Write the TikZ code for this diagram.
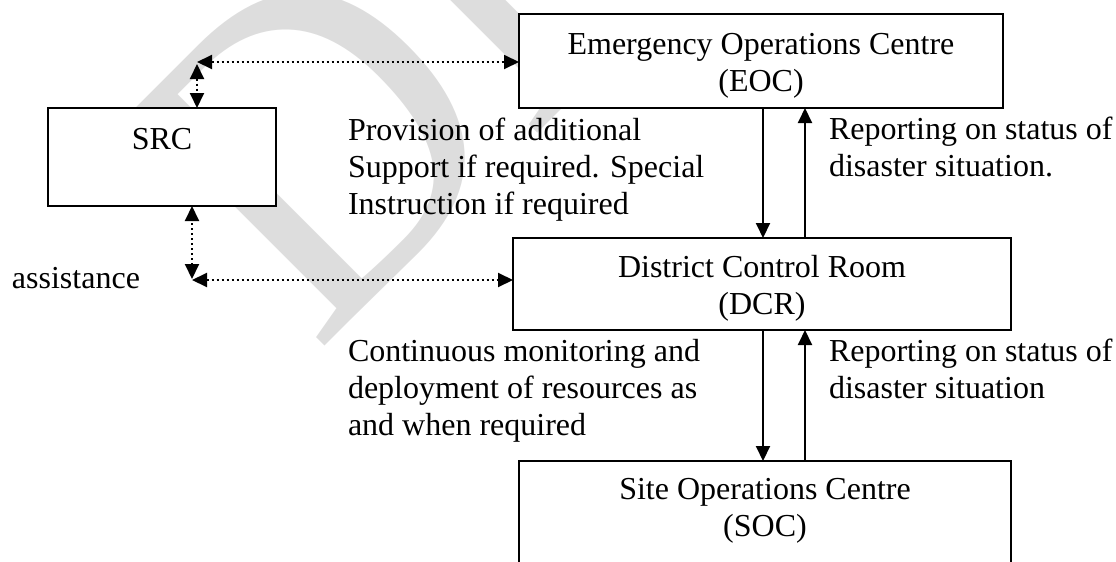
\documentclass[tikz,border=0pt]{standalone}
\usepackage{fontspec}
\setmainfont{Liberation Serif}
\usetikzlibrary{arrows.meta}
\definecolor{wmgray}{RGB}{221,221,221}
\begin{document}
\begin{tikzpicture}[x=1pt,y=-1pt,
  box/.style={draw, line width=1.6pt, fill=white, inner sep=0pt, outer sep=0pt},
  txt/.style={inner sep=0pt, outer sep=0pt, font=\fontsize{32}{37}\selectfont},
  lbl/.style={txt, align=left, anchor=north west},
  ctr/.style={txt, align=center},
  wmark/.style={text=wmgray, inner sep=0pt, anchor=base west, rotate=45, xscale=0.9, font=\fontsize{461}{461}\selectfont},
  flow/.style={line width=2pt, -{Triangle[length=15pt,width=14pt]}},
  dots/.style={line width=2pt, dash pattern=on 2pt off 3pt, {Triangle[length=15pt,width=14pt]}-{Triangle[length=15pt,width=14pt]}}]
\useasboundingbox (0,0) rectangle (1116,562);
\clip (0,0) rectangle (1116,562);
% watermark
\node[wmark] (wmk) at (316,355) {DRAFT};
% text labels
\node[lbl] (l1) at (348,115) {\strut Provision of additional\\\strut Support if required. Special\\\strut Instruction if required};
\node[lbl] (l2) at (829,114) {\strut Reporting on status of\\\strut disaster situation.};
\node[txt, anchor=base west] (l3) at (12,288) {assistance};
\node[lbl] (l4) at (348,336) {\strut Continuous monitoring and\\\strut deployment of resources as\\\strut and when required};
\node[lbl] (l5) at (829,336) {\strut Reporting on status of\\\strut disaster situation};
% boxes
\node[box, minimum width=484pt, minimum height=94pt] (eoc) at (761,61) {};
\node[ctr] (eoct) at (761,66) {\strut Emergency Operations Centre\\\strut(EOC)};
\node[box, minimum width=228pt, minimum height=98pt] (src) at (162,157) {};
\node[txt, anchor=base] (srct) at (162,149) {SRC};
\node[box, minimum width=498pt, minimum height=92pt] (dcr) at (762,284) {};
\node[ctr] (dcrt) at (762,289) {\strut District Control Room\\\strut(DCR)};
\node[box, minimum width=492pt, minimum height=160pt] (soc) at (765,541) {};
\node[ctr] (soct) at (765,511) {\strut Site Operations Centre\\\strut(SOC)};
% solid arrows
\coordinate (xa) at (763,0);
\coordinate (xb) at (805,0);
\draw[flow] (xa |- eoc.south) -- (xa |- dcr.north);
\draw[flow] (xb |- dcr.north) -- (xb |- eoc.south);
\draw[flow] (xa |- dcr.south) -- (xa |- soc.north);
\draw[flow] (xb |- soc.north) -- (xb |- dcr.south);
% dotted arrows
\coordinate (ca) at (197,62);
\coordinate (cav) at (197,64);
\coordinate (cb) at (192,280);
\coordinate (cbv) at (192,279);
\draw[dots] (ca) -- (ca -| eoc.west);
\draw[dots] (cav) -- (cav |- src.north);
\draw[dots] (cbv) -- (cbv |- src.south);
\draw[dots] (cb) -- (cb -| dcr.west);
\end{tikzpicture}
\end{document}
